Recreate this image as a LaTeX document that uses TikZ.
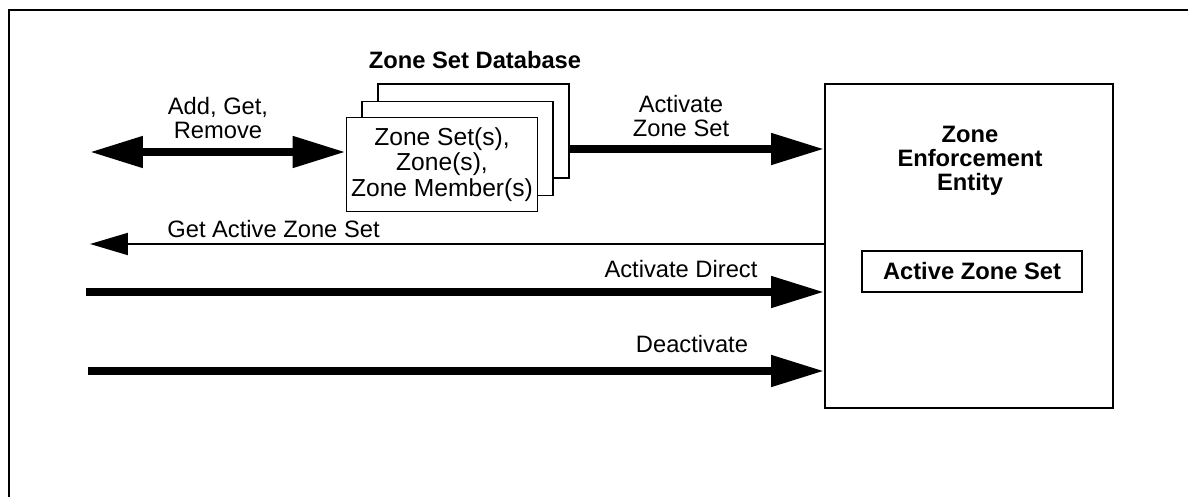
\documentclass[tikz,border=0pt]{standalone}
\usepackage{fontspec}
\setmainfont{Liberation Sans}
\usetikzlibrary{arrows.meta}

\begin{document}
\begin{tikzpicture}[x=0.02cm,y=-0.02cm,
    font=\fontsize{13.5pt}{14pt}\selectfont,
    dbbox/.style={draw,fill=white,line width=1.1pt,minimum width=3.82cm,minimum height=1.88cm,align=center,inner sep=0pt},
    zonebox/.style={draw,line width=1.1pt,inner sep=0pt},
    lbl/.style={align=center,inner sep=0pt},
    bigarrow/.style={line width=4.5pt,-{Triangle[length=1.06cm,width=0.6cm]}},
    thinarrow/.style={line width=1.1pt,-{Triangle[length=0.76cm,width=0.44cm]}}]
  \useasboundingbox (0,0) rectangle (1188,497);
  \clip (0,0) rectangle (1188,497);
  \draw[line width=1.7pt] (9,10) rectangle (1220,530);

  \node[lbl,font=\fontsize{13.5pt}{13.5pt}\selectfont\bfseries] (DBTitle) at (475,60) {Zone Set Database};
  \node[dbbox] (DB3) at (473.5,131) {};
  \node[dbbox] (DB2) at (457.5,148.5) {};
  \node[dbbox,font=\fontsize{14pt}{14.5pt}\selectfont] (DB1) at (442,164.5) {Zone Set(s),\\Zone(s),\\Zone Member(s)};

  \node[zonebox,minimum width=5.76cm,minimum height=6.48cm] (ZEE) at (969,246) {};
  \node[lbl,font=\fontsize{13.5pt}{13.8pt}\selectfont\bfseries] (ZEETitle) at (970,161) {Zone\\Enforcement\\Entity};
  \node[zonebox,minimum width=4.4cm,minimum height=0.82cm,font=\fontsize{13.5pt}{13.5pt}\selectfont\bfseries] (ActiveZS) at (972,271.5) {Active Zone Set};

  \coordinate (AddL) at (90,152);
  \coordinate (ActZ) at (570,149);
  \coordinate (GetL) at (90,244);
  \coordinate (DirL) at (86,292);
  \coordinate (DeaL) at (88,371);

  \draw[bigarrow,{Triangle[length=1.06cm,width=0.6cm]}-{Triangle[length=1.06cm,width=0.6cm]}] (AddL) -- (AddL -| DB1.west);
  \draw[bigarrow] (ActZ -| DB3.east) -- (ActZ -| ZEE.west);
  \draw[thinarrow] (GetL -| ZEE.west) -- (GetL);
  \draw[bigarrow] (DirL) -- (DirL -| ZEE.west);
  \draw[bigarrow] (DeaL) -- (DeaL -| ZEE.west);

  \node[lbl] (AddLbl) at (218,118) {Add, Get,\\Remove};
  \node[lbl] (ActLbl) at (681,116) {Activate\\Zone Set};
  \node[lbl] (GetLbl) at (273.5,229) {Get Active Zone Set};
  \node[lbl] (DirLbl) at (681,269) {Activate Direct};
  \node[lbl] (DeaLbl) at (692,344) {Deactivate};
\end{tikzpicture}
\end{document}
